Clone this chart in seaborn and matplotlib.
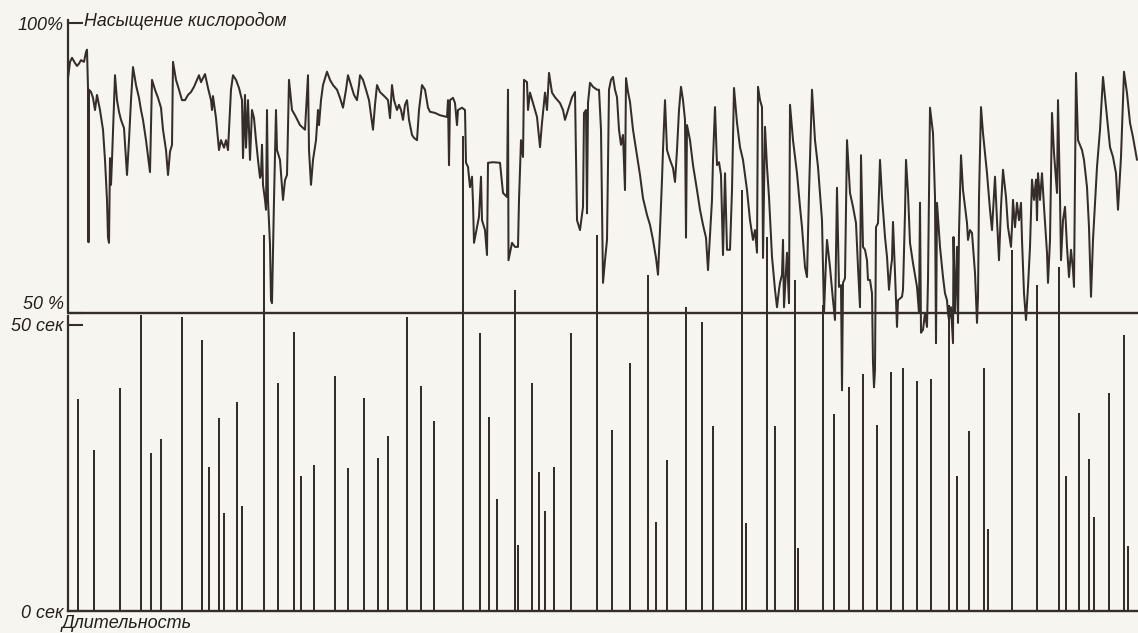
import matplotlib
matplotlib.use("Agg")
import matplotlib.pyplot as plt
import seaborn as sns
import pandas as pd

# ---- data ----
# oxygen saturation trace: time position (arbitrary units) and saturation (%)
sat_time = [68, 70, 72, 75, 77, 79, 81, 84, 86, 87, 88, 88.5, 89, 91, 93, 95, 97, 98, 100, 103,
            105, 107, 108, 109, 110, 111, 112, 115, 117, 119, 121, 124, 127, 129, 131, 133, 136, 139, 141, 143,
            146, 150, 152, 155, 158, 161, 163, 166, 168, 170, 172, 173, 176, 179, 182, 185, 188, 191, 194, 197,
            199, 201, 203, 205, 208, 211, 212, 213, 216, 219, 221, 224, 226, 228, 229, 231, 233, 236, 239, 241,
            242, 243, 245, 246, 248, 250, 252, 254, 256, 258, 260, 261, 262, 263, 265, 266, 267, 268, 270, 271,
            272, 274, 276, 277, 280, 283, 285, 287, 289, 292, 295, 300, 305, 308, 309, 311, 313, 316, 318, 319,
            321, 323, 327, 330, 333, 337, 340, 343, 346, 348, 351, 354, 357, 359, 360, 363, 366, 369, 371, 373,
            375, 377, 380, 383, 386, 388, 390, 392, 394, 397, 399, 401, 403, 405, 407, 409, 412, 414, 417, 419,
            422, 425, 428, 430, 435, 440, 447, 448, 449, 450, 453, 455, 457, 458, 462, 465, 466, 468, 470, 472,
            473, 474, 477, 479, 481, 482, 485, 487, 488, 493, 500, 503, 507, 508, 508.5, 512, 515, 518, 519, 521,
            523, 524, 527, 528, 530, 533, 537, 540, 542, 545, 547, 549, 552, 555, 560, 563, 565, 568, 572, 575,
            577, 580, 583, 584, 586, 587, 588, 590, 593, 597, 599, 601, 603, 605, 607, 609, 611, 613, 615, 617,
            619, 621, 623, 625, 626, 628, 630, 633, 637, 640, 643, 647, 650, 653, 656, 658, 660, 662, 663, 665,
            667, 670, 673, 675, 677, 679, 681, 683, 685, 686, 687, 690, 693, 697, 700, 703, 706, 708, 710, 712,
            713, 715, 717, 719, 721, 723, 725, 727, 730, 732, 734, 737, 740, 743, 747, 750, 753, 755, 757, 758,
            760, 762, 763, 765, 767, 769, 772, 775, 777, 779, 780, 782, 783, 784, 786, 787, 788, 789, 790, 793,
            797, 800, 802, 805, 807, 809, 812, 815, 818, 822, 823, 824, 826, 827, 830, 833, 835, 837, 839, 841,
            842, 843, 845, 847, 850, 853, 856, 858, 860, 861, 863, 865, 867, 868, 870, 872, 873, 874, 875, 876,
            878, 880, 882, 883, 885, 887, 889, 891, 892, 893, 895, 897, 898, 902, 903, 905, 906, 908, 910, 913,
            917, 919, 920, 921, 923, 925, 927, 928, 930, 933, 935, 936, 937, 940, 943, 945, 947, 948, 949, 951,
            953, 953.5, 955, 957, 958, 959, 961, 963, 967, 968, 970, 972, 975, 977, 978, 979, 981, 983, 987, 990,
            992, 995, 997, 999, 1001, 1003, 1006, 1008, 1011, 1012, 1013, 1015, 1017, 1019, 1021, 1022, 1024, 1026, 1028, 1030,
            1032, 1034, 1036, 1037, 1038, 1040, 1042, 1044, 1047, 1048, 1050, 1052, 1054, 1057, 1058, 1060, 1061, 1063, 1065, 1067,
            1069, 1071, 1073, 1074, 1076, 1078, 1082, 1084, 1087, 1089, 1091, 1093, 1097, 1100, 1103, 1107, 1110, 1113, 1116, 1118,
            1121, 1124, 1127, 1130, 1133, 1137]
sat_pct = [90.5, 93.3, 94.0, 93.1, 92.6, 93.0, 93.6, 93.3, 95.0, 95.4, 88.8, 62.2, 88.5, 88.1, 87.1, 85.0, 87.6, 86.7, 85.0, 81.6,
           76.4, 69.5, 63.0, 62.1, 76.7, 72.1, 76.4, 91.0, 86.7, 84.7, 83.3, 81.9, 73.8, 79.8, 86.7, 92.4, 89.3, 87.1, 85.0, 83.3,
           79.8, 74.3, 90.2, 88.5, 87.1, 85.4, 81.6, 78.1, 73.8, 77.8, 79.0, 93.3, 90.2, 88.5, 86.7, 86.7, 87.6, 88.1, 89.0, 90.2,
           91.0, 89.8, 90.5, 91.2, 88.8, 86.7, 85.0, 87.4, 83.6, 78.1, 79.8, 78.5, 79.8, 78.1, 81.6, 88.5, 91.0, 90.2, 88.8, 87.4,
           86.7, 76.7, 87.6, 78.5, 86.7, 76.4, 85.0, 83.6, 79.8, 76.4, 73.3, 73.8, 79.0, 72.1, 69.5, 67.8, 85.0, 69.5, 61.8, 52.2,
           51.7, 69.5, 85.0, 78.1, 76.4, 69.5, 72.9, 73.8, 90.2, 85.0, 84.1, 82.4, 81.6, 91.0, 78.1, 72.1, 76.4, 79.8, 85.0, 82.4,
           86.7, 89.3, 91.6, 90.2, 89.3, 88.5, 87.1, 85.4, 88.5, 91.0, 89.3, 87.6, 86.7, 89.3, 91.0, 90.2, 88.5, 86.7, 84.1, 81.6,
           85.9, 89.3, 88.1, 87.6, 87.1, 86.7, 83.6, 89.3, 86.7, 85.0, 85.9, 85.0, 83.3, 85.9, 86.7, 83.3, 80.7, 80.2, 79.8, 85.0,
           89.3, 88.5, 85.4, 84.7, 84.5, 84.1, 83.8, 86.7, 75.5, 86.7, 87.1, 86.2, 82.4, 85.0, 85.4, 85.0, 75.9, 75.2, 71.7, 73.5,
           69.0, 62.1, 64.8, 66.6, 73.5, 66.0, 64.3, 60.0, 75.9, 76.0, 75.9, 70.7, 70.0, 88.5, 59.1, 62.1, 61.4, 61.4, 69.5, 79.8,
           76.9, 90.2, 89.8, 85.0, 88.0, 86.2, 83.8, 78.6, 82.8, 88.0, 85.0, 91.4, 88.0, 87.2, 86.2, 85.0, 83.3, 85.0, 87.2, 88.1,
           66.0, 64.3, 68.3, 84.5, 85.0, 67.2, 86.2, 89.7, 89.0, 88.5, 88.5, 81.6, 55.2, 59.1, 62.6, 88.5, 90.2, 90.7, 88.5, 87.2,
           81.6, 79.0, 80.7, 71.2, 90.5, 88.1, 86.4, 81.6, 77.2, 73.8, 69.8, 66.9, 65.2, 62.6, 59.5, 56.6, 64.3, 73.0, 78.1, 86.7,
           78.1, 76.4, 75.0, 72.6, 78.1, 85.0, 89.0, 86.7, 83.3, 63.0, 82.4, 79.8, 75.5, 71.2, 67.8, 65.2, 63.0, 57.4, 63.5, 69.5,
           76.4, 85.5, 75.5, 76.0, 73.8, 60.0, 74.1, 60.9, 60.9, 71.2, 88.8, 82.8, 78.6, 76.4, 71.2, 66.0, 62.6, 64.3, 60.4, 89.0,
           86.7, 85.5, 59.5, 82.1, 75.2, 70.0, 59.7, 54.0, 51.0, 54.0, 55.2, 56.6, 62.6, 51.0, 57.4, 60.4, 55.7, 51.7, 85.9, 79.8,
           74.1, 68.3, 64.8, 57.9, 56.2, 70.7, 88.5, 79.8, 75.2, 66.0, 57.9, 50.0, 59.1, 62.6, 57.9, 52.2, 48.8, 71.6, 54.5, 54.8,
           36.7, 55.2, 56.0, 79.8, 70.7, 68.3, 65.5, 57.9, 51.0, 77.2, 61.4, 60.9, 59.1, 55.7, 55.7, 53.4, 41.4, 37.2, 40.2, 64.8,
           65.5, 76.4, 70.0, 67.8, 63.1, 59.7, 54.0, 57.9, 59.2, 65.7, 56.9, 47.6, 52.2, 52.8, 54.0, 67.2, 76.4, 70.7, 62.1, 58.6,
           54.5, 50.0, 69.0, 46.6, 47.1, 50.0, 47.6, 55.7, 85.4, 81.0, 70.0, 44.8, 69.0, 61.4, 56.2, 53.4, 52.2, 50.0, 48.8, 51.0,
           44.8, 63.1, 50.0, 61.4, 48.3, 63.8, 77.2, 71.2, 65.5, 62.6, 64.3, 63.8, 56.9, 48.3, 52.8, 70.0, 85.5, 81.0, 74.1, 67.8,
           64.3, 73.5, 66.0, 59.1, 68.3, 74.7, 70.0, 64.8, 61.4, 64.8, 69.5, 64.8, 69.0, 66.0, 69.0, 62.6, 53.4, 48.8, 54.5, 61.4,
           73.0, 69.5, 73.0, 66.0, 74.1, 69.5, 74.1, 68.3, 60.4, 55.2, 62.6, 84.5, 77.6, 70.7, 86.7, 70.0, 59.1, 66.0, 68.3, 61.4,
           56.2, 60.9, 57.4, 54.5, 91.4, 79.8, 78.1, 76.4, 71.7, 64.8, 52.8, 62.6, 75.2, 81.6, 90.7, 83.8, 78.6, 76.9, 74.1, 67.8,
           76.9, 91.6, 87.9, 82.8, 80.3, 76.4]

# event durations (seconds) at their time positions
dur_time = [78, 94, 120, 141, 151, 161, 182, 202, 209, 219, 224, 237, 242, 264, 278, 294, 301, 314, 335, 348,
            364, 378, 388, 407, 421, 434, 463, 480, 489, 497, 515, 518, 532, 539, 545, 554, 571, 597, 612, 630,
            648, 656, 667, 686, 702, 713, 742, 746, 767, 775, 795, 798, 823, 834, 849, 863, 877, 891, 903, 917,
            931, 949, 957, 969, 984, 988, 1012, 1037, 1059, 1066, 1079, 1089, 1094, 1109, 1124, 1128]
dur_sec = [37.1, 28.1, 39.0, 51.7, 27.6, 30.1, 51.4, 47.4, 25.2, 33.7, 17.1, 36.5, 18.4, 65.7, 39.9, 48.8, 23.6, 25.5, 41.1, 25.0,
           37.2, 26.7, 30.6, 51.4, 39.3, 33.2, 83.0, 48.6, 33.9, 19.6, 56.1, 11.5, 39.9, 24.3, 17.5, 25.2, 48.6, 65.7, 31.6, 43.4,
           58.7, 15.6, 26.4, 53.1, 50.5, 32.3, 73.6, 15.4, 65.4, 32.3, 57.9, 11.0, 53.5, 34.4, 39.2, 41.4, 32.5, 41.8, 42.5, 40.2,
           40.6, 53.5, 23.6, 31.5, 42.5, 14.3, 63.1, 57.0, 60.1, 23.6, 34.6, 26.6, 16.4, 38.1, 48.3, 11.4]

sat_ticks = [50, 100]
sat_ticklabels = ["50 %", "100%"]
dur_ticks = [0, 50]
dur_ticklabels = ["0 сек", "50 сек"]
title_top = "Насыщение кислородом"
title_bottom = "Длительность"

# ---- style ----
sns.set_theme(style="white")
plt.rcParams["font.family"] = ["Liberation Sans", "DejaVu Sans"]
BG = "#f6f5ef"
INK = "#342d2a"
TXT = "#231e1c"

W, H = 1138, 633
fig = plt.figure(figsize=(W / 100, H / 100), dpi=100, facecolor=BG)
left, right, top, bottom = 68, 1138, 20, 611
rect = [left / W, 1 - bottom / H, (right - left) / W, (bottom - top) / H]

ax_d = fig.add_axes(rect)
ax_s = fig.add_axes(rect)
for ax in (ax_d, ax_s):
    ax.set_facecolor("none")
    ax.set_xlim(68, 1138)
    for side in ("top", "right"):
        ax.spines[side].set_visible(False)
    ax.spines["left"].set_color(INK)
    ax.spines["left"].set_linewidth(1.6)

# durations (bottom panel)
df_d = pd.DataFrame({"t": dur_time, "s": dur_sec})
sns.barplot(data=df_d, x="t", y="s", native_scale=True, width=0.68, color=INK,
            errorbar=None, linewidth=0, saturation=1, ax=ax_d)
ax_d.set_xlim(68, 1138)
ax_d.set_ylim(0, 103.3)
ax_d.spines["left"].set_bounds(0, 51.6)
ax_d.spines["bottom"].set_color(INK)
ax_d.spines["bottom"].set_linewidth(1.7)

# saturation trace (top panel)
df_s = pd.DataFrame({"t": sat_time, "p": sat_pct})
sns.lineplot(data=df_s, x="t", y="p", estimator=None, sort=False, color=INK,
             linewidth=1.45, ax=ax_s)
ax_s.set_xlim(68, 1138)
ax_s.set_ylim(-1.38, 100.52)
ax_s.spines["bottom"].set_visible(False)
ax_s.spines["left"].set_bounds(50, 100.5)
ax_s.axhline(50, color=INK, linewidth=1.7, zorder=1)

for ax in (ax_d, ax_s):
    ax.set_xticks([])
    ax.set_xlabel("")
    ax.set_ylabel("")

tick_font = dict(fontsize=13, style="italic", color=TXT)
ax_s.set_yticks(sat_ticks)
ax_s.set_yticklabels(sat_ticklabels, **tick_font)
ax_s.tick_params(axis="y", direction="in", length=11, width=1.5, color=INK, pad=3, left=True)
ax_s.get_yticklabels()[0].set_va("bottom")

ax_d.set_yticks(dur_ticks)
ax_d.set_yticklabels(dur_ticklabels, **tick_font)
ax_d.tick_params(axis="y", direction="in", length=11, width=1.5, color=INK, pad=3, left=True)

fig.text(84 / W, 1 - 21 / H, title_top, fontsize=12.8, style="italic", color=TXT,
         ha="left", va="center")
fig.text(62 / W, 1 - 623 / H, title_bottom, fontsize=13, style="italic", color=TXT,
         ha="left", va="center")

fig.savefig("out.png", dpi=100, facecolor=BG)
